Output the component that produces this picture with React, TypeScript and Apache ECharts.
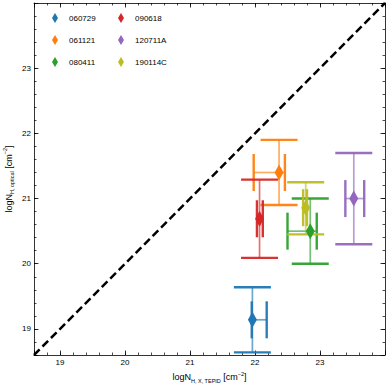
import React, { useEffect, useRef } from "react";
import * as echarts from "echarts";

const names = ["060729", "061121", "080411", "090618", "120711A", "190114C"];
const colors = ["#1f77b4", "#ff7f0e", "#2ca02c", "#d62728", "#9467bd", "#bcbd22"];
const xVal = [21.96, 22.37, 22.85, 22.07, 23.52, 22.78];
const xErrLo = [0.01, 0.39, 0.35, 0.04, 0.13, 0.04];
const xErrHi = [0.22, 0.09, 0.1, 0.05, 0.16, 0.02];
const yVal = [19.14, 21.4, 20.5, 20.69, 21.0, 20.86];
const yErrLo = [0.5, 0.5, 0.5, 0.6, 0.7, 0.41];
const yErrHi = [0.5, 0.5, 0.5, 0.6, 0.7, 0.39];
const axisMin = 18.6;
const axisMax = 24;
const diagonal = [
  [18.6, 18.6],
  [24, 24],
];

const FONT = "'Liberation Sans', Arial, Helvetica, sans-serif";

function labelFmt(v: number) {
  if (Math.abs(v - Math.round(v)) < 1e-6 && v > 18.7 && v < 23.9) return String(Math.round(v));
  return "";
}

const nameRich = {
  m: { fontSize: 9, fontFamily: FONT, color: "#000", lineHeight: 13 },
  s: { fontSize: 5.5, fontFamily: FONT, color: "#000", lineHeight: 6, verticalAlign: "bottom" },
  p: { fontSize: 5.5, fontFamily: FONT, color: "#000", lineHeight: 6, verticalAlign: "top" },
};

export default function App() {
  const ref = useRef<HTMLDivElement>(null);
  useEffect(() => {
    document.body.style.margin = "0";
    const chart = echarts.init(ref.current!, undefined, { renderer: "svg" });
    const CAP = 18.5;
    const series: any[] = [];
    series.push({
      type: "line",
      data: diagonal,
      xAxisIndex: 0,
      yAxisIndex: 0,
      symbol: "none",
      silent: true,
      lineStyle: { color: "#000", width: 2.5, type: [8, 4] },
      z: 1,
    });
    names.forEach((n, i) => {
      const col = colors[i];
      series.push({
        type: "scatter",
        name: n,
        xAxisIndex: 0,
        yAxisIndex: 0,
        z: 3,
        symbol: "diamond",
        symbolSize: [9, 16],
        itemStyle: { color: col, opacity: 1 },
        data: [[xVal[i], yVal[i]]],
      });
      series.push({
        type: "custom",
        name: n,
        xAxisIndex: 0,
        yAxisIndex: 0,
        z: 2,
        itemStyle: { color: col },
        data: [[xVal[i], yVal[i], xVal[i] - xErrLo[i], xVal[i] + xErrHi[i], yVal[i] - yErrLo[i], yVal[i] + yErrHi[i]]],
        encode: { x: [0, 2, 3], y: [1, 4, 5] },
        renderItem: (params: any, api: any) => {
          const c = api.coord([api.value(0), api.value(1)]);
          const xl = api.coord([api.value(2), api.value(1)])[0];
          const xh = api.coord([api.value(3), api.value(1)])[0];
          const yl = api.coord([api.value(0), api.value(4)])[1];
          const yh = api.coord([api.value(0), api.value(5)])[1];
          const lineStyle = { stroke: col, lineWidth: 1.7, opacity: 0.65 };
          const capStyle = { stroke: col, lineWidth: 2.4, opacity: 0.95 };
          return {
            type: "group",
            children: [
              { type: "line", shape: { x1: c[0], y1: yl, x2: c[0], y2: yh }, style: lineStyle },
              { type: "line", shape: { x1: xl, y1: c[1], x2: xh, y2: c[1] }, style: lineStyle },
              { type: "line", shape: { x1: c[0] - CAP, y1: yl, x2: c[0] + CAP, y2: yl }, style: capStyle },
              { type: "line", shape: { x1: c[0] - CAP, y1: yh, x2: c[0] + CAP, y2: yh }, style: capStyle },
              { type: "line", shape: { x1: xl, y1: c[1] - CAP, x2: xl, y2: c[1] + CAP }, style: capStyle },
              { type: "line", shape: { x1: xh, y1: c[1] - CAP, x2: xh, y2: c[1] + CAP }, style: capStyle },
            ],
          };
        },
      });
    });

    const majorX = (pos: string, showLabel: boolean, withName: boolean) => ({
      type: "value",
      gridIndex: 0,
      position: pos,
      min: axisMin,
      max: axisMax,
      splitNumber: 5,
      splitLine: { show: false },
      axisLine: { show: true, lineStyle: { color: "#000", width: 0.8 } },
      axisTick: { show: true, inside: true, length: 4.5, lineStyle: { color: "#000", width: 0.8 } },
      axisLabel: { show: showLabel, formatter: labelFmt, fontSize: 8, fontFamily: FONT, color: "#000", margin: 3 },
      ...(withName
        ? {
            name: "{m|logN}{s|H, X, TEPID}{m| [cm}{p|−2}{m|]}",
            nameLocation: "middle",
            nameGap: 14,
            nameTextStyle: { rich: nameRich },
          }
        : {}),
    });
    const majorY = (pos: string, showLabel: boolean, withName: boolean) => ({
      type: "value",
      gridIndex: 0,
      position: pos,
      min: axisMin,
      max: axisMax,
      splitNumber: 5,
      splitLine: { show: false },
      axisLine: { show: true, lineStyle: { color: "#000", width: 0.8 } },
      axisTick: { show: true, inside: true, length: 4.5, lineStyle: { color: "#000", width: 0.8 } },
      axisLabel: { show: showLabel, formatter: labelFmt, fontSize: 8, fontFamily: FONT, color: "#000", margin: 3 },
      ...(withName
        ? {
            name: "{m|logN}{s|H, optical}{m| [cm}{p|−2}{m|]}",
            nameLocation: "middle",
            nameGap: 19,
            nameMoveOverlap: false,
            nameRotate: 90,
            nameTextStyle: { rich: nameRich },
          }
        : {}),
    });
    const minor = (pos: string) => ({
      type: "value",
      gridIndex: 1,
      position: pos,
      min: axisMin,
      max: axisMax,
      interval: 0.2,
      splitLine: { show: false },
      axisLine: { show: false },
      axisTick: { show: true, inside: true, length: 2.5, lineStyle: { color: "#000", width: 0.7 } },
      axisLabel: { show: false },
    });

    chart.setOption({
      animation: false,
      backgroundColor: "#fff",
      grid: [
        { left: 34, right: 4, top: 3, bottom: 34, outerBoundsMode: "none", containLabel: false },
        { left: 34, right: 4, top: 3, bottom: 34, outerBoundsMode: "none", containLabel: false },
      ],
      xAxis: [majorX("bottom", true, true), majorX("top", false, false), minor("bottom"), minor("top")],
      yAxis: [majorY("left", true, true), majorY("right", false, false), minor("left"), minor("right")],
      legend: [
        {
          data: names.slice(0, 3),
          orient: "vertical",
          left: 47,
          top: 8,
          itemWidth: 6,
          itemHeight: 10,
          itemGap: 12,
          icon: "diamond",
          textStyle: { fontSize: 8, fontFamily: FONT, color: "#000", padding: [0, 0, 0, 6] },
        },
        {
          data: names.slice(3),
          orient: "vertical",
          left: 113,
          top: 8,
          itemWidth: 6,
          itemHeight: 10,
          itemGap: 12,
          icon: "diamond",
          textStyle: { fontSize: 8, fontFamily: FONT, color: "#000", padding: [0, 0, 0, 6] },
        },
      ],
      series,
    });
    return () => chart.dispose();
  }, []);
  return <div ref={ref} style={{ width: 389, height: 389 }} />;
}
